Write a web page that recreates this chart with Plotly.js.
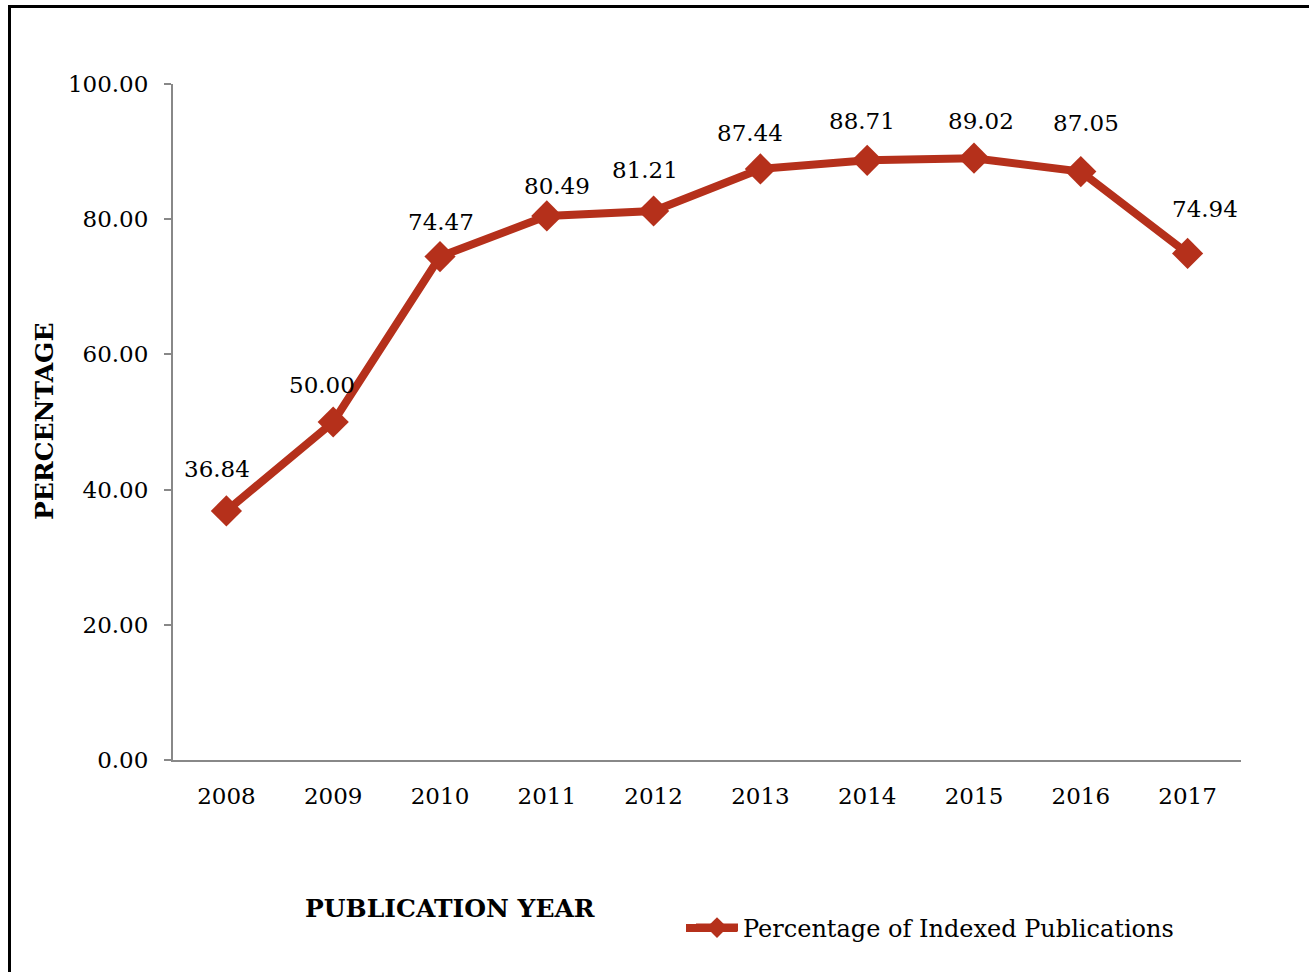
<!DOCTYPE html>
<html><head><meta charset="utf-8">
<script src="https://cdn.plot.ly/plotly-3.0.1.min.js"></script>
<style>
html,body{margin:0;padding:0;overflow:hidden;background:#fff;}
#frame{position:absolute;left:8px;top:5px;width:1400px;height:1100px;border:3px solid #000;pointer-events:none;z-index:5;}
#chart{position:absolute;left:0;top:0;width:1309px;height:972px;}
</style></head>
<body>
<div id="chart"></div>
<div id="frame"></div>
<script>
const years = ['2008','2009','2010','2011','2012','2013','2014','2015','2016','2017'];
const percentages = [36.84, 50.00, 74.47, 80.49, 81.21, 87.44, 88.71, 89.02, 87.05, 74.94];
const seriesName = 'Percentage of Indexed Publications';
const yTickVals = [0, 20, 40, 60, 80, 100];
const yTickText = ['0.00','20.00','40.00','60.00','80.00','100.00'];
// label nudges (pixels) to mimic the reference's manual label placement
const labelDx = [-9, -11, 1, 10, -9, -10, -5, 7, 5, 17];
const labelDy = [42, 37, 35, 30, 41, 36, 39, 37, 49, 44];

const red = '#B5301B';
const font = 'DejaVu Serif, Liberation Serif, serif';

const trace = {
  x: years, y: percentages, type: 'scatter', mode: 'lines+markers',
  name: seriesName,
  line: {color: red, width: 8},
  marker: {symbol: 'diamond', size: 24, color: red},
  hoverinfo: 'skip'
};

const annotations = years.map((yr, i) => ({
  x: i, y: percentages[i], xref: 'x', yref: 'y',
  text: percentages[i].toFixed(2), showarrow: false,
  xanchor: 'center', yanchor: 'middle',
  xshift: labelDx[i], yshift: labelDy[i],
  font: {family: font, size: 23, color: '#000'}
}));
annotations.push({
  xref: 'paper', yref: 'paper', x: (44 - 173) / 1068, y: (760 - 422) / 676,
  xanchor: 'center', yanchor: 'middle',
  text: '<b>PERCENTAGE</b>', textangle: -90, showarrow: false,
  font: {family: font, size: 25, color: '#000'}
});
annotations.push({
  xref: 'paper', yref: 'paper', x: (450 - 173) / 1068, y: (760 - 908) / 676,
  xanchor: 'center', yanchor: 'middle',
  text: '<b>PUBLICATION YEAR</b>', showarrow: false,
  font: {family: font, size: 25, color: '#000'}
});

const legendY = (760 - 928) / 676;
const layout = {
  width: 1309, height: 972,
  margin: {l: 173, r: 68, t: 84, b: 212},
  paper_bgcolor: '#fff', plot_bgcolor: '#fff',
  showlegend: true,
  legend: {x: (691 - 173) / 1068, y: legendY, xanchor: 'left', yanchor: 'middle',
           itemwidth: 42,
           font: {family: font, size: 24, color: '#000'}, bgcolor: 'rgba(0,0,0,0)'},
  shapes: [{
    type: 'line', xref: 'paper', yref: 'paper',
    x0: (686 - 173) / 1068, x1: (737 - 173) / 1068, y0: legendY, y1: legendY,
    line: {color: red, width: 8}, layer: 'above'
  }],
  xaxis: {
    type: 'category', range: [-0.5, 9.5], showgrid: false, zeroline: false,
    showline: true, linecolor: '#888', linewidth: 2, ticks: '',
    ticklabelstandoff: 14,
    tickfont: {family: font, size: 23, color: '#000'}, fixedrange: true
  },
  yaxis: {
    range: [0, 100], tickvals: yTickVals, ticktext: yTickText,
    showgrid: false, zeroline: false, showline: true, linecolor: '#888', linewidth: 2,
    ticks: 'outside', ticklen: 7, tickcolor: '#888', tickwidth: 2,
    ticklabelstandoff: 11,
    tickfont: {family: font, size: 23, color: '#000'}, fixedrange: true
  },
  annotations: annotations
};

Plotly.newPlot('chart', [trace], layout, {displayModeBar: false, staticPlot: true});
</script>
</body></html>
